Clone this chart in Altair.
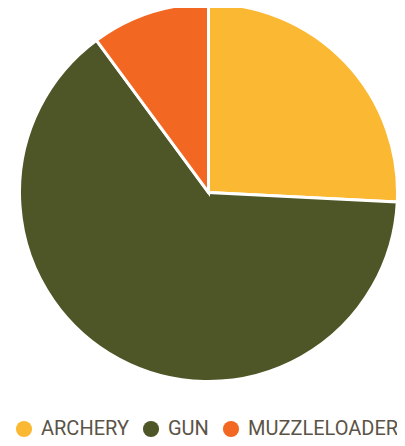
import altair as alt
import pandas as pd

categories = ["ARCHERY", "GUN", "MUZZLELOADER"]
shares = [25.8, 64.1, 10.1]
colors = ["#FBB832", "#4E5526", "#F26722"]
order = [0, 1, 2]

df = pd.DataFrame({"category": categories, "share": shares, "order": order})

chart = (
    alt.Chart(df)
    .mark_arc(outerRadius=189, stroke="white", strokeWidth=3)
    .encode(
        theta=alt.Theta("share:Q", stack=True),
        color=alt.Color(
            "category:N",
            scale=alt.Scale(domain=categories, range=colors),
            legend=alt.Legend(
                orient="bottom",
                title=None,
                direction="horizontal",
                symbolType="circle",
                symbolSize=260,
                symbolStrokeWidth=0,
                labelFont="Roboto",
                labelFontSize=20,
                labelColor="#5B5446",
                labelOffset=7,
                labelLimit=400,
                columnPadding=12,
                offset=42,
            ),
        ),
        order=alt.Order("order:Q"),
        tooltip=["category", "share"],
    )
    .properties(
        width=389,
        height=369,
        autosize="none",
        padding={"left": 6, "right": -6, "top": 0, "bottom": 65},
    )
    .configure_view(stroke=None)
)

chart.save("out.html", embed_options={"renderer": "svg", "actions": False})
